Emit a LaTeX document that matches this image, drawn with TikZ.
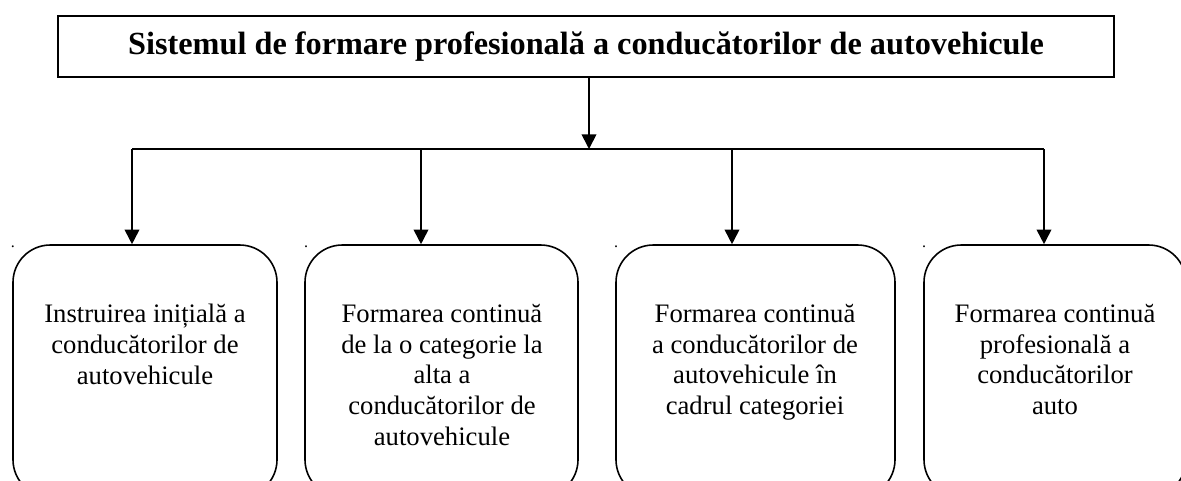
\documentclass[tikz,border=0pt]{standalone}
\usepackage{fontspec}
\setmainfont{Liberation Serif}
\usetikzlibrary{arrows.meta}
\tikzset{
  px/.style={x=0.75pt,y=-0.75pt},
  conn/.style={line width=1.3pt},
  arr/.style={conn,-{Triangle[width=11pt,length=11pt]}},
  titlebox/.style={draw,line width=1.3pt,inner sep=0pt,minimum width=792pt,minimum height=45.75pt,font=\fontsize{24.2}{28}\selectfont\bfseries},
  roundbox/.style={draw,line width=1.2pt,rounded corners=28pt,inner sep=0pt},
  boxtext/.style={align=center,inner sep=0pt,anchor=north,font=\fontsize{20}{23}\selectfont},
  dotmark/.style={inner sep=0pt,anchor=base,font=\fontsize{12}{14}\selectfont}
}
\begin{document}
\begin{tikzpicture}[px]
\useasboundingbox (0,0) rectangle (1181,480);
\clip (0,0) rectangle (1181,480);
\node[titlebox] (title) at (586,46.5) {Sistemul de formare profesională a conducătorilor de autovehicule};
\coordinate (jm) at (589,149);
\coordinate (c1) at (132,149);
\coordinate (c2) at (421,149);
\coordinate (c3) at (732,149);
\coordinate (c4) at (1044,149);
% boxes
\node[roundbox,minimum width=198pt,minimum height=189pt] (b1) at (145,371) {};
\node[roundbox,minimum width=204.75pt,minimum height=189pt] (b2) at (441.5,371) {};
\node[roundbox,minimum width=209.25pt,minimum height=189pt] (b3) at (755.5,371) {};
\node[roundbox,minimum width=196.5pt,minimum height=189pt] (b4) at (1055,371) {};
% texts
\node[boxtext] (t1) at (145,304) {Instruirea inițială a\\conducătorilor de\\autovehicule};
\node[boxtext] (t2) at (442,304) {Formarea continuă\\de la o categorie la\\alta a\\conducătorilor de\\autovehicule};
\node[boxtext] (t3) at (755,304) {Formarea continuă\\a conducătorilor de\\autovehicule în\\cadrul categoriei};
\node[boxtext] (t4) at (1055,304) {Formarea continuă\\profesională a\\conducătorilor\\auto};
% dots
\node[dotmark] (d1) at (13,247) {.};
\node[dotmark] (d2) at (306,247) {.};
\node[dotmark] (d3) at (616,247) {.};
\node[dotmark] (d4) at (924,247) {.};
% connectors
\draw[arr] (title.south -| jm) -- (jm);
\draw[conn] (c1) -- (c4);
\draw[arr] (c1) -- (c1 |- b1.north);
\draw[arr] (c2) -- (c2 |- b2.north);
\draw[arr] (c3) -- (c3 |- b3.north);
\draw[arr] (c4) -- (c4 |- b4.north);
\end{tikzpicture}
\end{document}
